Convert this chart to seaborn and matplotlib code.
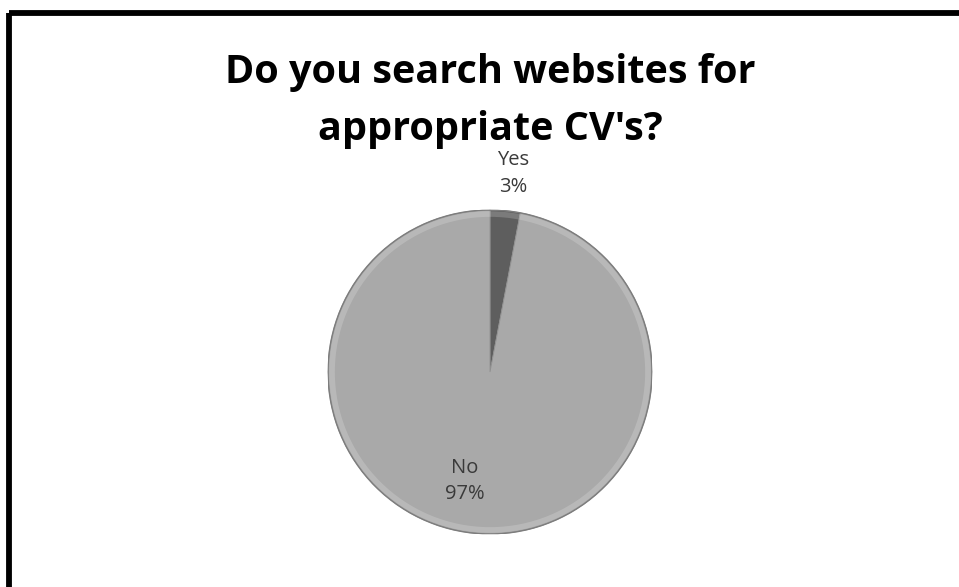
import numpy as np
import matplotlib
matplotlib.use("Agg")
import matplotlib.pyplot as plt
import seaborn as sns
from matplotlib.lines import Line2D

# Survey answers
answers = ["Yes", "No"]
shares = [3, 97]
title_lines = ["Do you search websites for", "appropriate CV's?"]

sns.set_theme(style="white")
plt.rcParams["font.family"] = ["Open Sans", "DejaVu Sans"]

slice_colors = ["#5e5e5e", "#a9a9a9"]

fig = plt.figure(figsize=(9.59, 5.87), dpi=100)
fig.patch.set_facecolor("white")

# Frame lines along the top and left edges
fig.add_artist(Line2D([0.0095, 1.0], [0.9787, 0.9787], transform=fig.transFigure,
                      color="black", linewidth=4.2, solid_capstyle="butt"))
fig.add_artist(Line2D([0.0095, 0.0095], [0.0, 0.9787], transform=fig.transFigure,
                      color="black", linewidth=4.2, solid_capstyle="butt"))

# Square axes holding the unit-radius pie
ax = fig.add_axes([328 / 959, 53 / 587, 324 / 959, 324 / 587])
wedges, _ = ax.pie(
    shares,
    colors=slice_colors,
    startangle=90,
    counterclock=False,
    radius=1.0,
    wedgeprops=dict(edgecolor="#8f8f8f", linewidth=0.6),
)

# Soft bevel rim around the pie
ax.add_patch(plt.Circle((0, 0), 0.975, fill=False, edgecolor="white",
                        linewidth=4.0, alpha=0.18, zorder=3))
ax.add_patch(plt.Circle((0, 0), 1.0, fill=False, edgecolor="#7d7d7d",
                        linewidth=1.0, zorder=4))

ax.set_xlim(-1, 1)
ax.set_ylim(-1, 1)
ax.set_aspect("equal")
ax.axis("off")

# Category and percentage labels (distance from centre, angular nudge in degrees)
label_place = {"Yes": (1.235, -1.2), "No": (0.69, -7.5)}
for w, name, val in zip(wedges, answers, shares):
    d, nudge = label_place[name]
    mid = np.deg2rad((w.theta1 + w.theta2) / 2 + nudge)
    ax.text(d * np.cos(mid), d * np.sin(mid), f"{name}\n{val}%",
            ha="center", va="center", fontsize=14.5, color="#3a3a3a",
            linespacing=1.45, clip_on=False, zorder=5)

fig.text(0.511, 0.876, title_lines[0], ha="center", va="center",
         fontsize=28.5, fontweight="bold", color="black")
fig.text(0.511, 0.779, title_lines[1], ha="center", va="center",
         fontsize=28.5, fontweight="bold", color="black")

fig.savefig("out.png", dpi=100, facecolor="white")
